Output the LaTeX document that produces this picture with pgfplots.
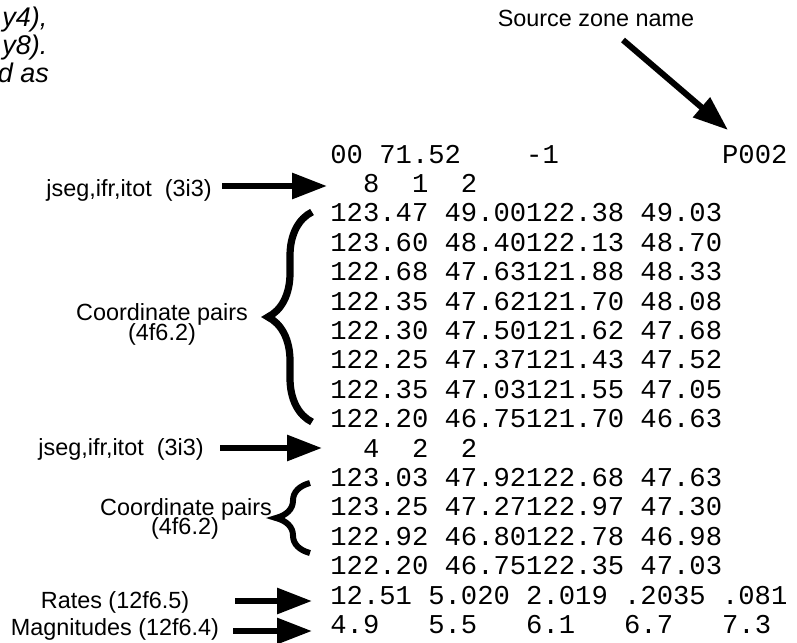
\documentclass[border=0pt]{standalone}
\usepackage{fontspec}
\setmainfont{Liberation Sans}
\newfontfamily\mono{Liberation Mono}
\usepackage{pgfplots}
\pgfplotsset{compat=1.18}
\usetikzlibrary{arrows.meta,decorations.pathreplacing}

% one axis unit = one pixel of the 797x642 reference
\tikzset{
    lbl/.style={anchor=base, inner sep=0pt, font=\fontsize{11.7}{14}\selectfont},
    itl/.style={anchor=base west, inner sep=0pt, font=\itshape\fontsize{13.5}{16}\selectfont},
    row/.style={anchor=base west, inner sep=0pt, font=\mono\fontsize{13.6}{16}\selectfont},
    arr/.style={line width=3pt, -{Triangle[length=17.5pt,width=12.5pt]}},
}

\begin{document}
\frenchspacing
\begin{tikzpicture}
\begin{axis}[
    hide axis,
    scale only axis,
    width=398.5pt, height=321pt,
    xmin=0, xmax=797, ymin=0, ymax=642,
    y dir=reverse,
    clip=false,
]

% caption text cut off at the left edge
\node[itl] at (-34,27) {x4,y4),};
\node[itl] at (-34,55) {x8,y8).};
\node[itl] at (-88,83) {are read as};

\node[lbl] at (596,27) {Source zone name};
\addplot[arr] coordinates {(623,40) (728,130)};

% file listing
\node[row] at (330,163.0) {00~71.52~~~~-1~~~~~~~~~~P002};
\node[row] at (330,192.4) {~~8~~1~~2};
\node[row] at (330,221.8) {123.47~49.00122.38~49.03};
\node[row] at (330,251.2) {123.60~48.40122.13~48.70};
\node[row] at (330,280.6) {122.68~47.63121.88~48.33};
\node[row] at (330,310.0) {122.35~47.62121.70~48.08};
\node[row] at (330,339.4) {122.30~47.50121.62~47.68};
\node[row] at (330,368.8) {122.25~47.37121.43~47.52};
\node[row] at (330,398.2) {122.35~47.03121.55~47.05};
\node[row] at (330,427.6) {122.20~46.75121.70~46.63};
\node[row] at (330,457.0) {~~4~~2~~2};
\node[row] at (330,486.4) {123.03~47.92122.68~47.63};
\node[row] at (330,515.8) {123.25~47.27122.97~47.30};
\node[row] at (330,545.2) {122.92~46.80122.78~46.98};
\node[row] at (330,574.6) {122.20~46.75122.35~47.03};
\node[row] at (330,604.0) {12.51~5.020~2.019~.2035~.081};
\node[row] at (330,633.4) {4.9~~~5.5~~~6.1~~~6.7~~~7.3};

% annotations
\node[lbl] at (129,196) {jseg,ifr,itot~~(3i3)};
\addplot[arr] coordinates {(222,186) (327,186)};

\draw[decorate, decoration={brace, amplitude=22pt}, line width=3.6pt] (312,422) -- (312,212);
\node[lbl] at (162,320) {Coordinate pairs};
\node[lbl] at (162,340) {(4f6.2)};

\node[lbl] at (121,455) {jseg,ifr,itot~~(3i3)};
\addplot[arr] coordinates {(220,448) (322,448)};

\draw[decorate, decoration={brace, amplitude=17pt}, line width=3pt] (310,553) -- (310,483);
\node[lbl] at (186,515) {Coordinate pairs};
\node[lbl] at (185,534) {(4f6.2)};

\node[lbl] at (115,608) {Rates (12f6.5)};
\addplot[arr] coordinates {(235,601) (312,601)};
\node[lbl] at (115,635) {Magnitudes (12f6.4)};
\addplot[arr] coordinates {(233,631) (312,631)};

\end{axis}
\pgfresetboundingbox
\useasboundingbox (current axis.south west) rectangle (current axis.north east);
\end{tikzpicture}
\end{document}
